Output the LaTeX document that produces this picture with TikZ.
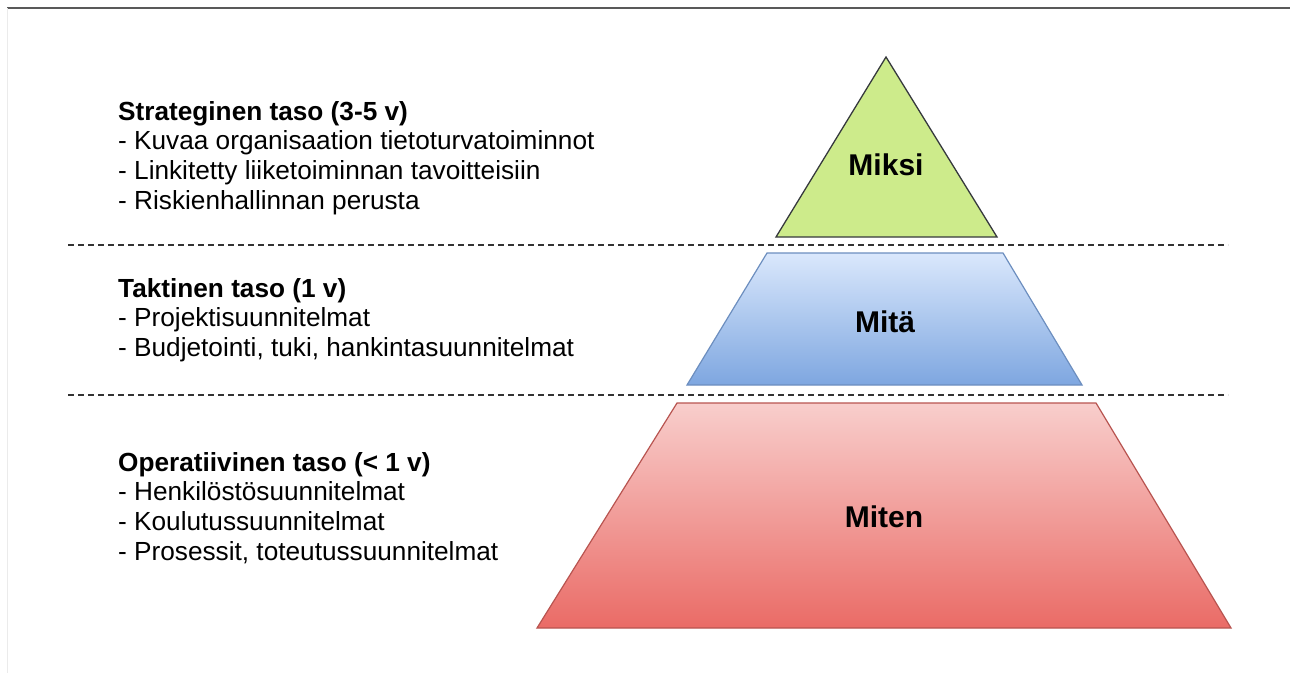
\documentclass[tikz,border=0pt]{standalone}
\usepackage{fontspec}
\setmainfont{Liberation Sans}
\usetikzlibrary{positioning}

\definecolor{greenfill}{HTML}{CDEB8B}
\definecolor{greenline}{HTML}{36393D}
\definecolor{bluetop}{HTML}{DAE8FC}
\definecolor{bluebot}{HTML}{7EA6E0}
\definecolor{blueline}{HTML}{6C8EBF}
\definecolor{redtop}{HTML}{F8CECC}
\definecolor{redbot}{HTML}{EA6B66}
\definecolor{redline}{HTML}{B85450}

\tikzset{
  levelname/.style={font=\fontsize{30}{35}\selectfont\bfseries, inner sep=0pt},
  textblock/.style={anchor=north west, align=left, inner sep=0pt,
    font=\fontsize{26.2}{29.7}\selectfont},
  separator/.style={black!80, line width=1.6pt, dash pattern=on 6pt off 4pt}
}

\begin{document}
\begin{tikzpicture}[x=1pt,y=-1pt]
\useasboundingbox (0,0) rectangle (1290,673);

% frame
\draw[black!65, line width=1.5pt] (7,8) -- (1290,8);
\draw[black!8] (7,8) -- (7,673);

% corners of the pyramid parts
\coordinate (T_top) at (886,57);
\coordinate (T_left) at (776,237);
\coordinate (T_right) at (997,237);

\coordinate (M_tl) at (767,253);
\coordinate (M_tr) at (1003,253);
\coordinate (M_bl) at (687,385);
\coordinate (M_br) at (1082,385);

\coordinate (B_tl) at (677,403);
\coordinate (B_tr) at (1096,403);
\coordinate (B_bl) at (537,628);
\coordinate (B_br) at (1231,628);

\draw[greenline, fill=greenfill, line width=1.3pt] (T_top) -- (T_right) -- (T_left) -- cycle;
\draw[blueline, top color=bluetop, bottom color=bluebot, line width=1.2pt] (M_tl) -- (M_tr) -- (M_br) -- (M_bl) -- cycle;
\draw[redline, top color=redtop, bottom color=redbot, line width=1.2pt] (B_tl) -- (B_tr) -- (B_br) -- (B_bl) -- cycle;

\node[levelname] (miksi) at (886,165) {Miksi};
\node[levelname] (mita) at (885,322) {Mitä};
\node[levelname] (miten) at (884,517) {Miten};

% dashed separators
\foreach \y in {245,395}
\draw[separator] (68,\y) -- (1228,\y);

\node[textblock] (strat) at (118,101) {\textbf{Strateginen taso (3-5 v)}\\
- Kuvaa organisaation tietoturvatoiminnot\\
- Linkitetty liiketoiminnan tavoitteisiin\\
- Riskienhallinnan perusta};

\node[textblock] (takt) at (118,278) {\textbf{Taktinen taso (1 v)}\\
- Projektisuunnitelmat\\
- Budjetointi, tuki, hankintasuunnitelmat};

\node[textblock] (oper) at (118,452) {\textbf{Operatiivinen taso (< 1 v)}\\
- Henkilöstösuunnitelmat\\
- Koulutussuunnitelmat\\
- Prosessit, toteutussuunnitelmat};

\end{tikzpicture}
\end{document}
